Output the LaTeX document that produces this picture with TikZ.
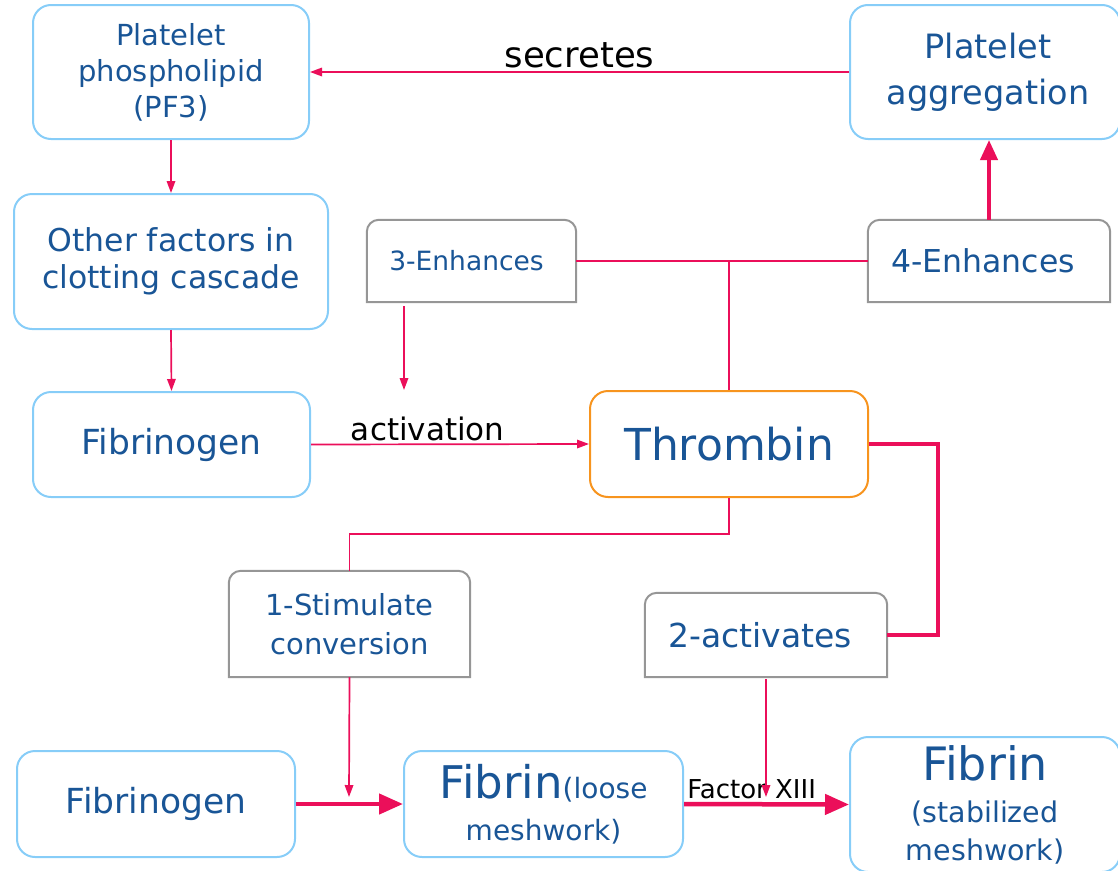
\documentclass[tikz,border=0pt]{standalone}
\usepackage{fontspec}
\setmainfont{DejaVu Sans}
\usetikzlibrary{arrows.meta}
\definecolor{tblue}{RGB}{25,85,150}
\definecolor{bblue}{RGB}{135,205,248}
\definecolor{arr}{RGB}{235,15,90}
\definecolor{gbord}{RGB}{150,150,150}
\definecolor{orng}{RGB}{247,148,30}
\newcommand\fsz[2]{\fontsize{#1}{#2}\selectfont}
\newcommand\gframe[1]{\draw[draw=gbord,line width=2pt] (#1.south west) -- ([yshift=-12pt]#1.north west) arc[start angle=180,end angle=90,radius=12pt] -- ([xshift=-12pt]#1.north east) arc[start angle=90,end angle=0,radius=12pt] -- (#1.south east) -- cycle;}
\tikzset{
 bbox/.style={draw=bblue, line width=2pt, rounded corners=18pt, text=tblue, align=center, inner sep=0pt},
 obox/.style={bbox, draw=orng},
 gtext/.style={text=tblue, align=center, inner sep=0pt},
 ln/.style={draw=arr, line width=1.7pt},
 thn/.style={ln, -{Triangle[length=12pt,width=8.5pt]}},
 thkline/.style={draw=arr, line width=4.5pt},
 thk/.style={thkline, -{Triangle[length=24pt,width=20pt]}},
 lbl/.style={text=black, inner sep=2pt},
}
\begin{document}
\begin{tikzpicture}[x=1pt,y=1pt]
\useasboundingbox (0,0) rectangle (1118,-870);
% blue / orange boxes
\node[bbox, minimum width=276pt, minimum height=134pt, font=\fsz{29}{36}] (pp) at (171,-72) {Platelet\\phospholipid\\(PF3)};
\node[bbox, minimum width=270pt, minimum height=134pt, font=\fsz{33.5}{46}] (pa) at (985,-72) {\kern6pt Platelet\\\kern6pt aggregation};
\node[bbox, minimum width=314pt, minimum height=135pt, font=\fsz{31.5}{37}] (of) at (171,-261.5) {Other factors in\\clotting cascade};
\node[bbox, minimum width=277pt, minimum height=105pt, font=\fsz{34.5}{40}] (fg1) at (171.5,-444.5) {Fibrinogen};
\node[obox, minimum width=278pt, minimum height=106pt, font=\fsz{44}{50}] (th) at (729,-444) {Thrombin};
\node[bbox, minimum width=278pt, minimum height=106pt, font=\fsz{34.5}{40}] (fg2) at (156,-804) {Fibrinogen};
\node[bbox, minimum width=279pt, minimum height=106pt, font=\fsz{28}{42}] (fl) at (543.5,-804) {{\fontsize{45}{42}\selectfont Fibrin}(loose\\meshwork)};
\node[bbox, minimum width=270pt, minimum height=135pt, font=\fsz{28.5}{38}] (fs) at (985,-804.5) {{\fontsize{46}{42}\selectfont Fibrin}\\[4pt](stabilized\\meshwork)};
% grey boxes
\node[gtext, minimum width=209pt, minimum height=82pt, font=\fsz{26.5}{30}] (e3) at (471.5,-261) {3-Enhances\kern10pt};
\gframe{e3}
\node[gtext, minimum width=242pt, minimum height=82pt, font=\fsz{31.5}{36}] (e4) at (989,-261) {4-Enhances\kern12pt};
\gframe{e4}
\node[gtext, minimum width=241pt, minimum height=106pt, font=\fsz{29}{39}] (s1) at (349.5,-624) {1-Stimulate\\conversion};
\gframe{s1}
\node[gtext, minimum width=242pt, minimum height=84pt, font=\fsz{33}{36}] (a2) at (766,-635) {2-activates\kern12pt};
\gframe{a2}
% free end points
\coordinate (e3t) at (404,-390);
\coordinate (j1) at (729,-534);
\coordinate (s1t) at (349,-797);
\coordinate (j2) at (938,-635);
\coordinate (a2t) at (766,-797);
% connectors
\draw[thn] (pa.west) -- (pp.east) node[lbl, midway, above=1pt, font=\fsz{35.5}{40}] {secretes};
\draw[thn] (pp.south) -- (of.north);
\draw[thn] (of.south) -- (fg1.north);
\draw[thn] (fg1.east) -- (th.west) node[lbl, pos=0.42, above=1pt, font=\fsz{31}{36}] {activation};
\draw[ln] (e3.east) -- (e4.west);
\draw[ln] (th.north) -- (th.north |- e3.east);
\draw[thk, line width=4pt, -{Triangle[length=20pt,width=17pt]}] (e4.north) -- (e4.north |- pa.south);
\draw[thn, shorten <=4pt] (e3.south -| e3t) -- (e3t);
\draw[ln] (th.south) -- (j1) -| (s1.north);
\draw[thn] (s1.south) -- (s1t);
\draw[thk] (fg2.east) -- (fl.west);
\draw[thk] (fl.east) -- (fs.west) node[lbl, pos=0, above right, inner sep=1pt, yshift=2pt, font=\fsz{26}{30}] {Factor XIII};
\draw[thkline] (th.east) -| (j2) -- (a2.east);
\draw[thn, shorten <=2pt] (a2.south) -- (a2t);
\end{tikzpicture}
\end{document}
